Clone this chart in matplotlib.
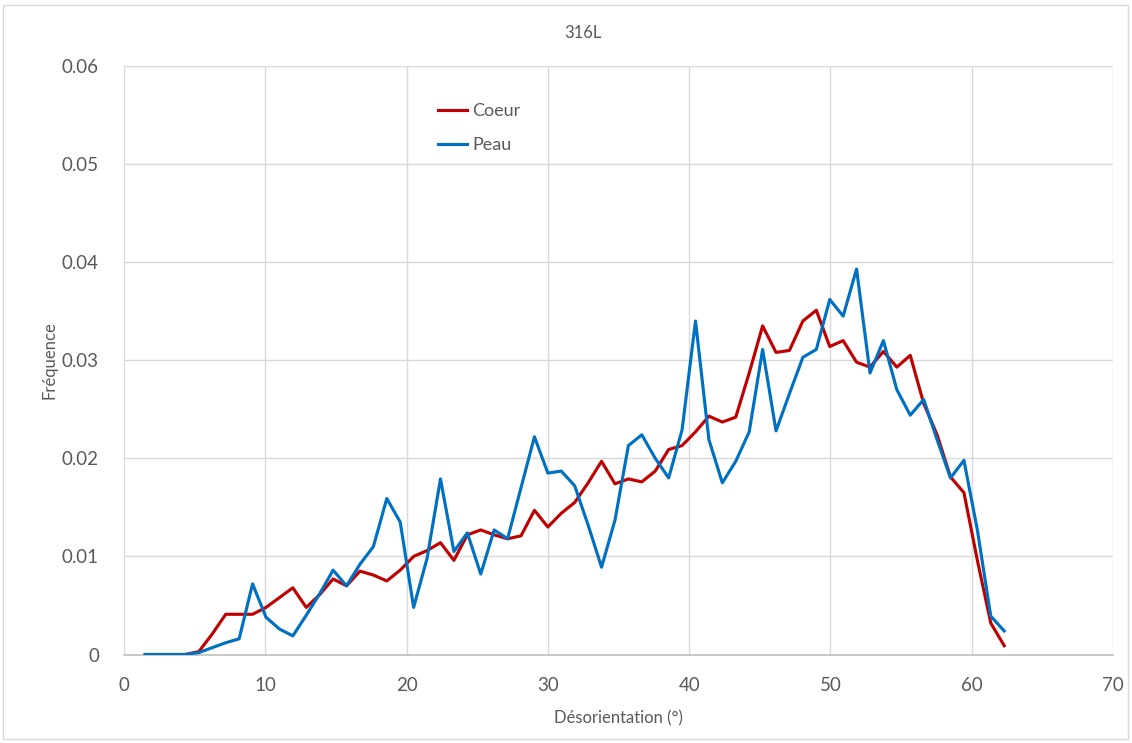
import matplotlib
matplotlib.use("Agg")
import matplotlib.pyplot as plt
from matplotlib.patches import Rectangle

plt.rcParams['font.family'] = ['Lato', 'DejaVu Sans']

title = "316L"
xlabel = "Désorientation (°)"
ylabel = "Fréquence"
series_names = ["Coeur", "Peau"]

x_deg = [1.5, 2.45, 3.4, 4.35, 5.3, 6.25, 7.2, 8.15, 9.1, 10.05, 11.0, 11.95, 12.9,
         13.85, 14.8, 15.75, 16.7, 17.65, 18.6, 19.55, 20.5, 21.45, 22.4, 23.35, 24.3,
         25.25, 26.2, 27.15, 28.1, 29.05, 30.0, 30.95, 31.9, 32.85, 33.8, 34.75, 35.7,
         36.65, 37.6, 38.55, 39.5, 40.45, 41.4, 42.35, 43.3, 44.25, 45.2, 46.15, 47.1,
         48.05, 49.0, 49.95, 50.9, 51.85, 52.8, 53.75, 54.7, 55.65, 56.6, 57.55, 58.5,
         59.45, 60.4, 61.35, 62.3]

coeur = [0, 0, 0, 0, 0.0003, 0.0021, 0.0041, 0.0041, 0.0041, 0.0048, 0.0058, 0.0068,
         0.0048, 0.0061, 0.0077, 0.0070, 0.0085, 0.0081, 0.0075, 0.0086, 0.0100, 0.0106,
         0.0114, 0.0096, 0.0122, 0.0127, 0.0122, 0.0118, 0.0121, 0.0147, 0.0130, 0.0144,
         0.0155, 0.0175, 0.0197, 0.0174, 0.0179, 0.0176, 0.0187, 0.0209, 0.0213, 0.0227,
         0.0243, 0.0237, 0.0242, 0.0287, 0.0335, 0.0308, 0.0310, 0.0340, 0.0351, 0.0314,
         0.0320, 0.0298, 0.0293, 0.0309, 0.0293, 0.0305, 0.0256, 0.0224, 0.0181, 0.0165,
         0.0096, 0.0032, 0.0009]

peau = [0, 0, 0, 0, 0.0002, 0.0007, 0.0012, 0.0016, 0.0072, 0.0038, 0.0026, 0.0019,
        0.0040, 0.0062, 0.0086, 0.0070, 0.0092, 0.0110, 0.0159, 0.0135, 0.0048, 0.0098,
        0.0179, 0.0105, 0.0124, 0.0082, 0.0127, 0.0118, 0.0170, 0.0222, 0.0185, 0.0187,
        0.0172, 0.0132, 0.0089, 0.0137, 0.0213, 0.0224, 0.0200, 0.0180, 0.0229, 0.0340,
        0.0219, 0.0175, 0.0197, 0.0227, 0.0311, 0.0228, 0.0266, 0.0303, 0.0311, 0.0362,
        0.0345, 0.0393, 0.0287, 0.0320, 0.0270, 0.0244, 0.0260, 0.0219, 0.0180, 0.0198,
        0.0127, 0.0039, 0.0024]

x_ticks = [0, 10, 20, 30, 40, 50, 60, 70]
y_ticks = [0, 0.01, 0.02, 0.03, 0.04, 0.05, 0.06]
y_tick_labels = ["0", "0.01", "0.02", "0.03", "0.04", "0.05", "0.06"]

W, H = 1132, 743
fig = plt.figure(figsize=(W / 100, H / 100), dpi=100)
ax = fig.add_axes([124 / W, 1 - 654.5 / H, (1113 - 124) / W, (654.5 - 66) / H])

ax.plot(x_deg, coeur, color="#C00000", lw=2.25, label=series_names[0], zorder=3)
ax.plot(x_deg, peau, color="#0070C0", lw=2.25, label=series_names[1], zorder=4)

ax.set_xlim(0, 70)
ax.set_ylim(0, 0.06)
ax.set_xticks(x_ticks)
ax.set_xticklabels([str(t) for t in x_ticks])
ax.set_yticks(y_ticks)
ax.set_yticklabels(y_tick_labels)
ax.grid(True, color="#d9d9d9", lw=1)
ax.set_axisbelow(True)
for s in ["top", "right", "left"]:
    ax.spines[s].set_visible(False)
ax.spines["bottom"].set_color("#bfbfbf")
ax.spines["bottom"].set_linewidth(1.2)
ax.tick_params(axis="both", length=0, labelcolor="#595959", labelsize=13.5)
ax.tick_params(axis="x", pad=16)
ax.tick_params(axis="y", pad=18)

ax.set_xlabel(xlabel, fontsize=12, color="#595959", labelpad=12)
ax.set_ylabel(ylabel, fontsize=12, color="#595959", labelpad=3)

fig.text(583 / W, 1 - 33 / H, title, ha="center", va="center", fontsize=12, color="#595959")

leg = ax.legend(loc="upper left", bbox_to_anchor=(422 / W, 1 - 87 / H),
                bbox_transform=fig.transFigure, frameon=False, fontsize=13,
                handlelength=1.6, handletextpad=0.3, labelspacing=1.0)
for t in leg.get_texts():
    t.set_color("#595959")

fig.patches.append(Rectangle((3 / W, 4 / H), (W - 7) / W, (H - 9) / H,
                             transform=fig.transFigure, fill=False,
                             edgecolor="#d9d9d9", lw=1))

fig.savefig("out.png", dpi=100)
